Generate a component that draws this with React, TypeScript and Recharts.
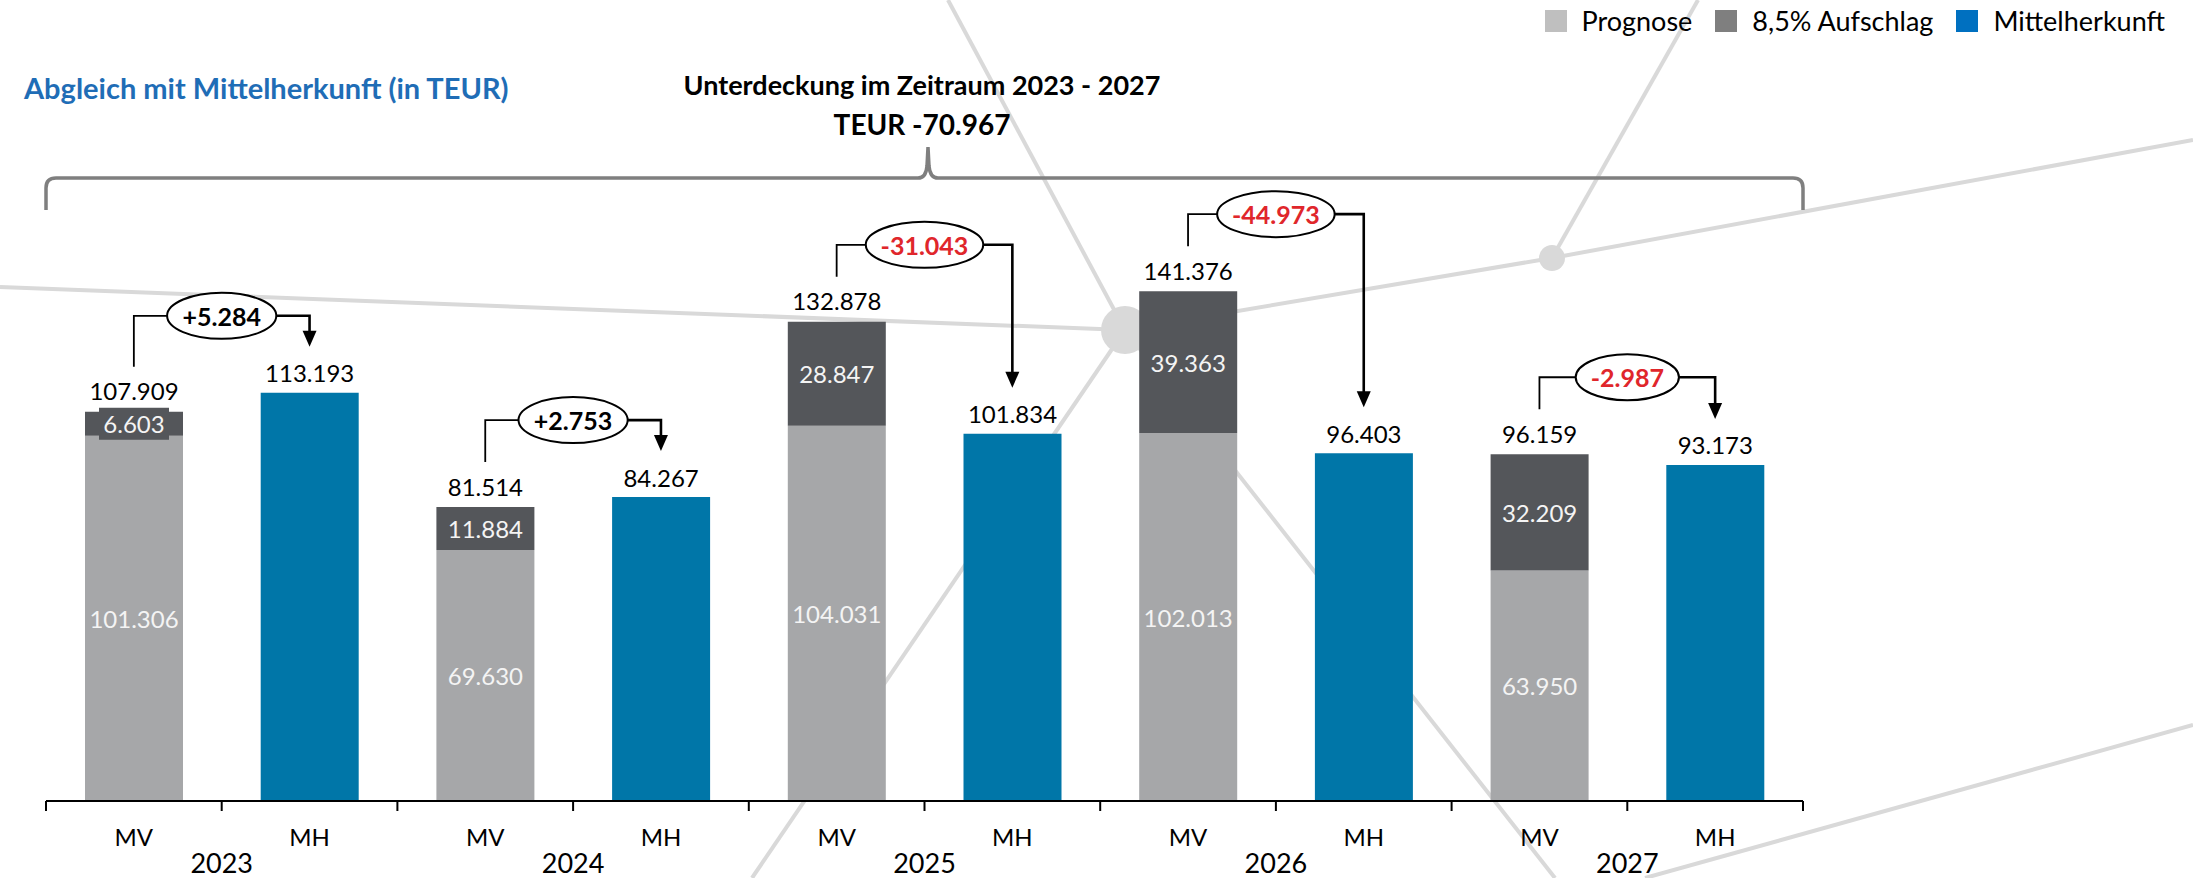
import React from 'react';
import { BarChart, Bar, XAxis, YAxis, LabelList, ReferenceLine } from 'recharts';

// values in TEUR
const years = ['2023', '2024', '2025', '2026', '2027'];
const barKinds = ['MV', 'MH'];
const prognose = [101306, 69630, 104031, 102013, 63950];
const aufschlag = [6603, 11884, 28847, 39363, 32209];
const mittelherkunft = [113193, 84267, 101834, 96403, 93173];
const differenz = [5284, 2753, -31043, -44973, -2987];
const gesamtDifferenz = -70967;
const seriesNames = ['Prognose', '8,5% Aufschlag', 'Mittelherkunft'];

const W = 2193;
const H = 878;
const MARGIN = { top: 224, right: 390, bottom: 0, left: 46 };
const AXIS_H = 77;
const BAND = (W - MARGIN.left - MARGIN.right) / (years.length * barKinds.length);
const FONT = "Lato, 'Open Sans', sans-serif";

const colors = {
  prognose: '#a6a7a9',
  aufschlag: '#54565a',
  mittel: '#0076a8',
  legend: ['#bfbfbf', '#7f7f7f', '#0070c0'],
  title: '#1f6db6',
  red: '#e0262b',
  deco: '#d9d9d9',
  brace: '#7f7f7f',
};

const fmt = (v: number) => String(Math.abs(v)).replace(/\B(?=(\d{3})+(?!\d))/g, '.');
const signed = (v: number) => (v < 0 ? '-' : '+') + fmt(v);

const rows = years.flatMap((yr, i) => [
  { key: `${yr}|${barKinds[0]}`, prognose: prognose[i], aufschlag: aufschlag[i] },
  { key: `${yr}|${barKinds[1]}`, mittel: mittelherkunft[i] },
]);

function box(props: any) {
  const vb = props.viewBox || {};
  return {
    x: props.x ?? vb.x,
    y: props.y ?? vb.y,
    width: props.width ?? vb.width,
    height: props.height ?? vb.height,
  };
}

function InnerLabel(props: any) {
  const { value } = props;
  if (value == null) return null;
  const { x, y, width, height } = box(props);
  const cx = x + width / 2;
  const cy = y + height / 2;
  const small = Math.abs(height) < 28;
  return (
    <g>
      {small && <rect x={cx - 35} y={cy - 16} width={70} height={32} fill={colors.aufschlag} />}
      <text x={cx} y={cy} textAnchor="middle" dominantBaseline="central" fill="#f4f4f4" fontSize={24} fontFamily={FONT}>
        {fmt(value)}
      </text>
    </g>
  );
}

// total of the stacked MV bar, drawn above the top segment
function TotalLabel(props: any) {
  const { value } = props;
  if (value == null) return null;
  const i = aufschlag.indexOf(Number(value));
  if (i < 0) return null;
  const { x, y, width } = box(props);
  return (
    <text x={x + width / 2} y={y - 21} textAnchor="middle" dominantBaseline="central" fill="#000" fontSize={24} fontFamily={FONT}>
      {fmt(prognose[i] + aufschlag[i])}
    </text>
  );
}

function TopLabel(props: any) {
  const { value } = props;
  if (value == null) return null;
  const { x, y, width } = box(props);
  return (
    <text x={x + width / 2} y={y - 20} textAnchor="middle" dominantBaseline="central" fill="#000" fontSize={24} fontFamily={FONT}>
      {fmt(value)}
    </text>
  );
}

function Bracket(props: any) {
  const { x1, y1, x2, y2, diff } = props;
  if ([x1, y1, x2, y2].some((v) => v == null || isNaN(v))) return null;
  const level = Math.min(y1, y2) - 77;
  const mx = (x1 + x2) / 2;
  const txt = signed(diff);
  const digits = txt.replace(/[^0-9]/g, '').length;
  const tw = digits * 14.3 + 6 + (diff > 0 ? 14 : 8);
  const rx = tw / 2 + 16;
  const tip = y2 - 46;
  return (
    <g>
      <path d={`M${x1},${y1 - 45} V${level} H${mx - rx}`} fill="none" stroke="#000" strokeWidth={1.8} />
      <path d={`M${mx + rx},${level} H${x2} V${tip - 14}`} fill="none" stroke="#000" strokeWidth={2.6} />
      <polygon points={`${x2 - 7},${tip - 16} ${x2 + 7},${tip - 16} ${x2},${tip}`} fill="#000" />
      <ellipse cx={mx} cy={level} rx={rx} ry={23} fill="#fff" stroke="#000" strokeWidth={2} />
      <text x={mx} y={level} textAnchor="middle" dominantBaseline="central" fontWeight={700} fontSize={25}
        fontFamily={FONT} fill={diff < 0 ? colors.red : '#000'}>
        {txt}
      </text>
    </g>
  );
}

function AxisTick(props: any) {
  const { x, y, payload } = props;
  const [yr, kind] = String(payload.value).split('|');
  const last = payload.value === rows[rows.length - 1].key;
  return (
    <g>
      <line x1={x - BAND / 2} x2={x - BAND / 2} y1={y} y2={y + 10} stroke="#000" strokeWidth={2} />
      {last && <line x1={x + BAND / 2} x2={x + BAND / 2} y1={y} y2={y + 10} stroke="#000" strokeWidth={2} />}
      <text x={x} y={y + 35} textAnchor="middle" dominantBaseline="central" fontSize={24} fontFamily={FONT} fill="#000">
        {kind}
      </text>
      {kind === barKinds[0] && (
        <text x={x + BAND / 2} y={y + 61} textAnchor="middle" dominantBaseline="central" fontSize={27} fontFamily={FONT} fill="#000">
          {yr}
        </text>
      )}
    </g>
  );
}

function Decoration() {
  const node = { x: 1125, y: 330 };
  const small = { x: 1552, y: 258 };
  const seg = (a: number[], b: number[], k: string) => (
    <line key={k} x1={a[0]} y1={a[1]} x2={b[0]} y2={b[1]} stroke={colors.deco} strokeWidth={4} />
  );
  return (
    <svg width={W} height={H} style={{ position: 'absolute', left: 0, top: 0 }}>
      {seg([948, 0], [node.x, node.y], 'a')}
      {seg([node.x, node.y], [1555, 878], 'b')}
      {seg([node.x, node.y], [752, 878], 'c')}
      {seg([0, 287], [node.x, node.y], 'd')}
      {seg([node.x, node.y], [small.x, small.y], 'e')}
      {seg([small.x, small.y], [2193, 140], 'f')}
      {seg([1698, 0], [small.x, small.y], 'g')}
      {seg([2193, 725], [1645, 878], 'h')}
      <circle cx={node.x} cy={node.y} r={24} fill={colors.deco} />
      <circle cx={small.x} cy={small.y} r={13} fill={colors.deco} />
    </svg>
  );
}

function Overlay() {
  const px = 928;
  const left = MARGIN.left;
  const right = W - MARGIN.right;
  const by = 178;
  const brace = `M${left},210 V${by + 10} Q${left},${by} ${left + 10},${by} H${px - 10} Q${px - 2},${by} ${px - 1},${by - 12} L${px},${by - 31} L${px + 1},${by - 12} Q${px + 2},${by} ${px + 10},${by} H${right - 10} Q${right},${by} ${right},${by + 10} V210`;
  return (
    <svg width={W} height={H} style={{ position: 'absolute', left: 0, top: 0, pointerEvents: 'none' }}>
      <text x={24} y={87} dominantBaseline="central" fontSize={29} fontWeight={700} fontFamily={FONT} fill={colors.title}>
        Abgleich mit Mittelherkunft (in TEUR)
      </text>
      <text x={922} y={84} textAnchor="middle" dominantBaseline="central" fontSize={27} fontWeight={700} fontFamily={FONT} fill="#000">
        Unterdeckung im Zeitraum {years[0]} - {years[years.length - 1]}
      </text>
      <text x={922} y={124} textAnchor="middle" dominantBaseline="central" fontSize={28} fontWeight={700} fontFamily={FONT} fill="#000">
        TEUR {signed(gesamtDifferenz)}
      </text>
      <path d={brace} fill="none" stroke={colors.brace} strokeWidth={3.5} />
    </svg>
  );
}

function LegendBox() {
  return (
    <div style={{ position: 'absolute', top: 5, right: 28, display: 'flex', alignItems: 'center', fontFamily: FONT, fontSize: 27, color: '#000', lineHeight: '32px' }}>
      {seriesNames.map((name, i) => (
        <div key={name} style={{ display: 'flex', alignItems: 'center', marginLeft: i === 0 ? 0 : 23 }}>
          <span style={{ display: 'inline-block', width: 22, height: 22, background: colors.legend[i], marginRight: 15 }} />
          <span>{name}</span>
        </div>
      ))}
    </div>
  );
}

export default function App() {
  return (
    <div style={{ position: 'absolute', left: 0, top: 0, width: W, height: H, background: '#fff', fontFamily: FONT, overflow: 'hidden' }}>
      <Decoration />
      <div style={{ position: 'absolute', left: 0, top: 0 }}>
        <BarChart width={W} height={H} data={rows} margin={MARGIN} barCategoryGap={39}>
          <XAxis dataKey="key" height={AXIS_H} interval={0} tickSize={0} tickMargin={0} tickLine={false}
            axisLine={{ stroke: '#000', strokeWidth: 2 }} tick={<AxisTick />} />
          <YAxis hide width={0} domain={[0, 160000]} />
          <Bar dataKey="prognose" stackId="s" fill={colors.prognose} isAnimationActive={false}>
            <LabelList dataKey="prognose" content={<InnerLabel />} />
          </Bar>
          <Bar dataKey="aufschlag" stackId="s" fill={colors.aufschlag} isAnimationActive={false}>
            <LabelList dataKey="aufschlag" content={<InnerLabel />} />
            <LabelList dataKey="aufschlag" content={<TotalLabel />} />
          </Bar>
          <Bar dataKey="mittel" stackId="s" fill={colors.mittel} isAnimationActive={false}>
            <LabelList dataKey="mittel" content={<TopLabel />} />
          </Bar>
          {years.map((yr, i) => (
            <ReferenceLine
              key={yr}
              ifOverflow="visible"
              segment={[
                { x: `${yr}|${barKinds[0]}`, y: prognose[i] + aufschlag[i] },
                { x: `${yr}|${barKinds[1]}`, y: mittelherkunft[i] },
              ]}
              shape={(p: any) => <Bracket {...p} diff={differenz[i]} />}
            />
          ))}
        </BarChart>
      </div>
      <Overlay />
      <LegendBox />
    </div>
  );
}
